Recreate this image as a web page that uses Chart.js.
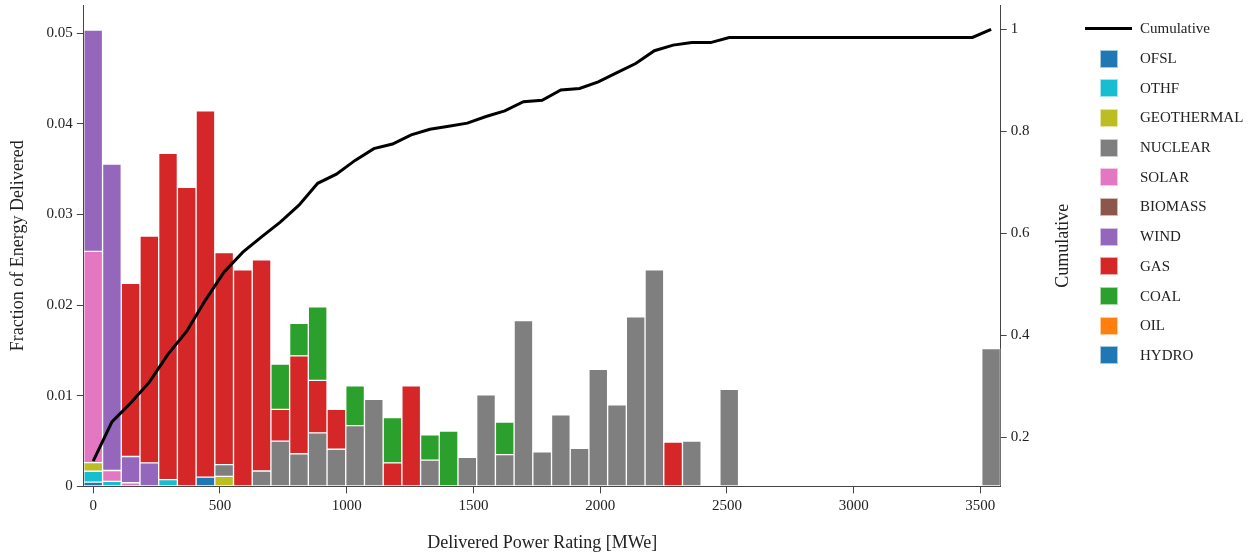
<!DOCTYPE html>
<html>
<head>
<meta charset="utf-8">
<script src="https://cdn.jsdelivr.net/npm/chart.js@4"></script>
<style>
  body { margin: 0; background: #fff; }
  #wrap { position: relative; width: 1256px; height: 554px; }
  #legend { position: absolute; left: 1085px; top: 14px; font: 15px "Liberation Serif", serif; color: #222; }
  .row { display: flex; align-items: center; height: 29.7px; }
  .sym { width: 47px; display: flex; justify-content: center; align-items: center; }
  .box { width: 18px; height: 18px; box-sizing: border-box; border: 1px solid rgba(255,255,255,0.6); }
  .line { width: 47px; height: 3px; background: #000; }
  .txt { margin-left: 8px; }
</style>
</head>
<body>
<div id="wrap">
  <canvas id="chart" width="1256" height="554"></canvas>
  <div id="legend"></div>
</div>
<script>
// bin centers (MWe)
const binCenters = [
  0, 73.8, 147.6, 221.4, 295.2, 369, 442.8, 516.6, 590.4, 664.2,
  738, 811.8, 885.6, 959.4, 1033.2, 1107, 1180.8, 1254.6, 1328.4, 1402.2,
  1476, 1549.8, 1623.6, 1697.4, 1771.2, 1845, 1918.8, 1992.6, 2066.4, 2140.2,
  2214, 2287.8, 2361.6, 2435.4, 2509.2, 2583, 2656.8, 2730.6, 2804.4, 2878.2,
  2952, 3025.8, 3099.6, 3173.4, 3247.2, 3321, 3394.8, 3468.6, 3542.4
];
const xTicks = [0, 500, 1000, 1500, 2000, 2500, 3000, 3500];
const yTicks = [0, 0.01, 0.02, 0.03, 0.04, 0.05];
const y2Ticks = [0.2, 0.4, 0.6, 0.8, 1];

// fraction of energy delivered, per source, per bin
const OFSL = [
  0.00047, 0, 0, 0, 0, 0, 0.00103, 0, 0, 0,
  0, 0, 0, 0, 0, 0, 0, 0, 0, 0,
  0, 0, 0, 0, 0, 0, 0, 0, 0, 0,
  0, 0, 0, 0, 0, 0, 0, 0, 0, 0,
  0, 0, 0, 0, 0, 0, 0, 0, 0
];
const OTHF = [
  0.0012, 0.00055, 0, 0, 0.00074, 0, 0, 0, 0, 0,
  0, 0, 0, 0, 0, 0, 0, 0, 0, 0,
  0, 0, 0, 0, 0, 0, 0, 0, 0, 0,
  0, 0, 0, 0, 0, 0, 0, 0, 0, 0,
  0, 0, 0, 0, 0, 0, 0, 0, 0
];
const GEOTHERMAL = [
  0.00096, 0, 0, 0, 0, 0, 0, 0.0011, 0, 0,
  0, 0, 0, 0, 0, 0, 0, 0, 0, 0,
  0, 0, 0, 0, 0, 0, 0, 0, 0, 0,
  0, 0, 0, 0, 0, 0, 0, 0, 0, 0,
  0, 0, 0, 0, 0, 0, 0, 0, 0
];
const NUCLEAR = [
  0, 0, 0, 0, 0, 0, 0, 0.0013, 0, 0.0017,
  0.0050, 0.0036, 0.0059, 0.0041, 0.0067, 0.0096, 0, 0, 0.0029, 0,
  0.0032, 0.0101, 0.0035, 0.0183, 0.0038, 0.0079, 0.0042, 0.0129, 0.0090, 0.0187,
  0.0239, 0, 0.0050, 0, 0.0107, 0, 0, 0, 0, 0,
  0, 0, 0, 0, 0, 0, 0, 0, 0.0152
];
const SOLAR = [
  0.0233, 0.0012, 0.0004, 0, 0, 0, 0, 0, 0, 0,
  0, 0, 0, 0, 0, 0, 0, 0, 0, 0,
  0, 0, 0, 0, 0, 0, 0, 0, 0, 0,
  0, 0, 0, 0, 0, 0, 0, 0, 0, 0,
  0, 0, 0, 0, 0, 0, 0, 0, 0
];
const BIOMASS = [
  0, 0, 0, 0, 0, 0, 0, 0, 0, 0,
  0, 0, 0, 0, 0, 0, 0, 0, 0, 0,
  0, 0, 0, 0, 0, 0, 0, 0, 0, 0,
  0, 0, 0, 0, 0, 0, 0, 0, 0, 0,
  0, 0, 0, 0, 0, 0, 0, 0, 0
];
const WIND = [
  0.0244, 0.0338, 0.0029, 0.0026, 0, 0, 0, 0, 0, 0,
  0, 0, 0, 0, 0, 0, 0, 0, 0, 0,
  0, 0, 0, 0, 0, 0, 0, 0, 0, 0,
  0, 0, 0, 0, 0, 0, 0, 0, 0, 0,
  0, 0, 0, 0, 0, 0, 0, 0, 0
];
const GAS = [
  0, 0, 0.0191, 0.0250, 0.0360, 0.0330, 0.0404, 0.0234, 0.0239, 0.0233,
  0.0035, 0.0108, 0.0058, 0.0044, 0, 0, 0.0026, 0.0111, 0, 0,
  0, 0, 0, 0, 0, 0, 0, 0, 0, 0,
  0, 0.0049, 0, 0, 0, 0, 0, 0, 0, 0,
  0, 0, 0, 0, 0, 0, 0, 0, 0
];
const COAL = [
  0, 0, 0, 0, 0, 0, 0, 0, 0, 0,
  0.0050, 0.0036, 0.0081, 0, 0.0044, 0, 0.0050, 0, 0.0028, 0.0061,
  0, 0, 0.0036, 0, 0, 0, 0, 0, 0, 0,
  0, 0, 0, 0, 0, 0, 0, 0, 0, 0,
  0, 0, 0, 0, 0, 0, 0, 0, 0
];
const OIL = [
  0, 0, 0, 0, 0, 0, 0, 0, 0, 0,
  0, 0, 0, 0, 0, 0, 0, 0, 0, 0,
  0, 0, 0, 0, 0, 0, 0, 0, 0, 0,
  0, 0, 0, 0, 0, 0, 0, 0, 0, 0,
  0, 0, 0, 0, 0, 0, 0, 0, 0
];
const HYDRO = [
  0, 0, 0, 0, 0, 0, 0, 0, 0, 0,
  0, 0, 0, 0, 0, 0, 0, 0, 0, 0,
  0, 0, 0, 0, 0, 0, 0, 0, 0, 0,
  0, 0, 0, 0, 0, 0, 0, 0, 0, 0,
  0, 0, 0, 0, 0, 0, 0, 0, 0
];

// cumulative (right axis)
const cumulative = [
  0.153, 0.230, 0.267, 0.308, 0.363, 0.408, 0.469, 0.524, 0.563, 0.593,
  0.622, 0.655, 0.698, 0.716, 0.743, 0.766, 0.775, 0.793, 0.804, 0.810,
  0.816, 0.829, 0.840, 0.858, 0.861, 0.881, 0.884, 0.897, 0.915, 0.933,
  0.958, 0.969, 0.974, 0.974, 0.984, 0.984, 0.984, 0.984, 0.984, 0.984,
  0.984, 0.984, 0.984, 0.984, 0.984, 0.984, 0.984, 0.984, 1.0
];

const sources = [
  ["OFSL", OFSL, "#1f77b4"],
  ["OTHF", OTHF, "#17becf"],
  ["GEOTHERMAL", GEOTHERMAL, "#bcbd22"],
  ["NUCLEAR", NUCLEAR, "#7f7f7f"],
  ["SOLAR", SOLAR, "#e377c2"],
  ["BIOMASS", BIOMASS, "#8c564b"],
  ["WIND", WIND, "#9467bd"],
  ["GAS", GAS, "#d62728"],
  ["COAL", COAL, "#2ca02c"],
  ["OIL", OIL, "#ff7f0e"],
  ["HYDRO", HYDRO, "#1f77b4"]
];

const FONT = "'Liberation Serif', serif";
const TEXT = "#222";
const AXIS = "#444";

const datasets = [{
  type: "line",
  label: "Cumulative",
  data: binCenters.map((x, i) => ({ x: x, y: cumulative[i] })),
  yAxisID: "y2",
  borderColor: "#000",
  borderWidth: 3,
  pointRadius: 0,
  tension: 0,
  fill: false
}];
sources.forEach(([name, values, color]) => {
  datasets.push({
    type: "bar",
    label: name,
    data: binCenters.map((x, i) => ({ x: x, y: values[i] })),
    yAxisID: "y",
    backgroundColor: color,
    borderColor: "rgba(255,255,255,0.6)",
    borderWidth: 1,
    borderSkipped: false,
    categoryPercentage: 1,
    barPercentage: 1
  });
});

// draws the right axis title reading bottom-to-top
const rightTitle = {
  id: "rightTitle",
  afterDraw(chart) {
    const s = chart.scales.y2;
    const area = chart.chartArea;
    const ctx = chart.ctx;
    ctx.save();
    ctx.font = "18px " + FONT;
    ctx.fillStyle = TEXT;
    ctx.textAlign = "center";
    ctx.textBaseline = "middle";
    ctx.translate(s.right - 4 - 10.8, (area.top + area.bottom) / 2);
    ctx.rotate(-Math.PI / 2);
    ctx.fillText("Cumulative", 0, 0);
    ctx.restore();
  }
};

const setTicks = list => axis => { axis.ticks = list.map(v => ({ value: v })); };
const noTopPad = s => { s.paddingTop = 0; };
const axisGrid = { drawOnChartArea: false, drawTicks: true, color: AXIS, tickLength: 7, offset: false };

const chart = new Chart(document.getElementById("chart"), {
  data: { datasets: datasets },
  plugins: [rightTitle],
  options: {
    responsive: false,
    animation: false,
    layout: { padding: { left: 0, right: 178, top: 5, bottom: 0 } },
    plugins: { legend: { display: false }, tooltip: { enabled: false } },
    scales: {
      x: {
        type: "linear",
        stacked: true,
        offset: false,
        min: -36.9,
        max: 3580,
        afterBuildTicks: setTicks(xTicks),
        grid: axisGrid,
        border: { display: true, color: AXIS, width: 1 },
        ticks: {
          padding: 4, color: TEXT, font: { family: FONT, size: 15 },
          callback: v => String(v)
        },
        title: {
          display: true, text: "Delivered Power Rating [MWe]",
          color: TEXT, font: { family: FONT, size: 18 },
          padding: { top: 13, bottom: 0 }
        }
      },
      y: {
        position: "left",
        stacked: true,
        min: 0,
        max: 0.0531,
        afterBuildTicks: setTicks(yTicks),
        afterFit: noTopPad,
        grid: axisGrid,
        border: { display: true, color: AXIS, width: 1 },
        ticks: {
          padding: 4, color: TEXT, font: { family: FONT, size: 15 },
          callback: v => String(v)
        },
        title: {
          display: true, text: "Fraction of Energy Delivered",
          color: TEXT, font: { family: FONT, size: 18 },
          padding: { top: 7, bottom: 14 }
        }
      },
      y2: {
        position: "right",
        stacked: false,
        min: 0.1036,
        max: 1.0477,
        afterBuildTicks: setTicks(y2Ticks),
        afterFit: noTopPad,
        grid: { drawOnChartArea: false, drawTicks: true, color: AXIS, tickLength: 6 },
        border: { display: true, color: AXIS, width: 1 },
        ticks: {
          padding: 4, color: TEXT, font: { family: FONT, size: 15 },
          callback: v => String(v)
        },
        title: {
          display: true, text: "Cumulative",
          color: "rgba(0,0,0,0)", font: { family: FONT, size: 18 },
          padding: { top: 4, bottom: 19 }
        }
      }
    }
  }
});

// legend built from the chart's datasets
const legend = document.getElementById("legend");
chart.data.datasets.forEach(ds => {
  const row = document.createElement("div");
  row.className = "row";
  const sym = document.createElement("div");
  sym.className = "sym";
  const mark = document.createElement("div");
  if (ds.type === "line") {
    mark.className = "line";
  } else {
    mark.className = "box";
    mark.style.background = ds.backgroundColor;
  }
  sym.appendChild(mark);
  const txt = document.createElement("span");
  txt.className = "txt";
  txt.textContent = ds.label;
  row.appendChild(sym);
  row.appendChild(txt);
  legend.appendChild(row);
});
</script>
</body>
</html>
